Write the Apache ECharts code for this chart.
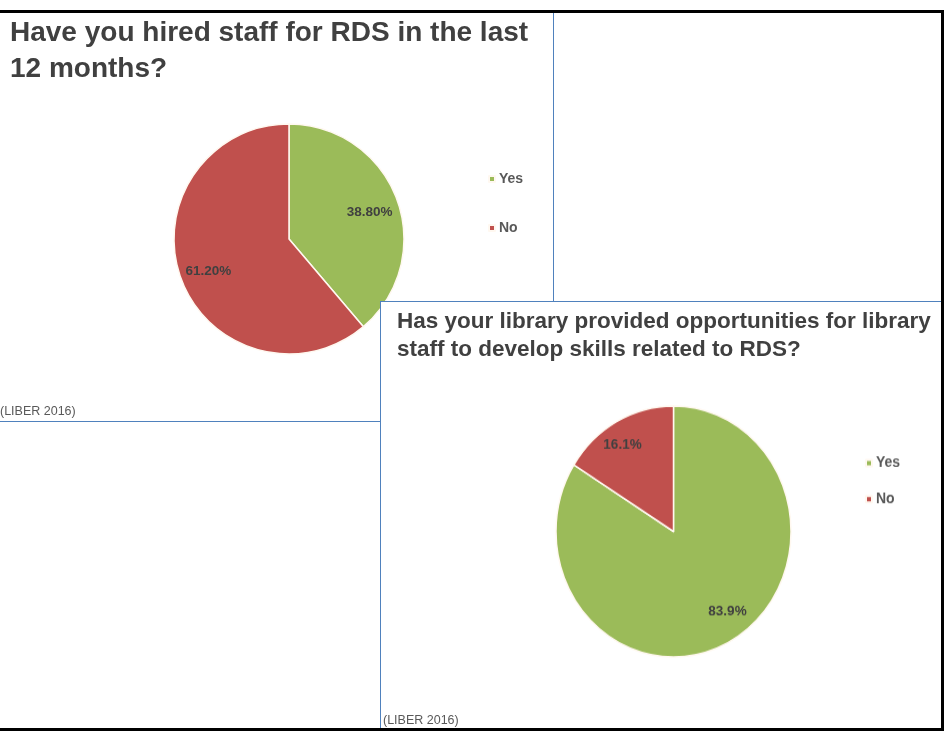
<!DOCTYPE html>
<html>
<head>
<meta charset="utf-8">
<script src="https://cdn.jsdelivr.net/npm/echarts@6/dist/echarts.min.js"></script>
<style>
  html, body { margin:0; padding:0; background:#fff; }
  #frame { position:absolute; left:0; top:0; width:944px; height:731px; }
  #topLine { position:absolute; left:0; top:10px; width:944px; height:3px; background:#000; }
  #rightLine { position:absolute; left:941px; top:10px; width:3px; height:721px; background:#000; }
  #bottomLine { position:absolute; left:0; top:728px; width:944px; height:3px; background:#000; }
  #c1 { position:absolute; left:0; top:13px; width:553px; height:408px; border-right:1px solid #4F81BD; border-bottom:1px solid #4F81BD; background:#fff; }
  #c2 { position:absolute; left:380px; top:301px; width:560px; height:426px; border-left:1px solid #4F81BD; border-top:1px solid #4F81BD; background:#fff; }
  #p2 { position:absolute; left:0; top:0; width:560px; height:426px; transform-origin:292.5px 229.5px; transform:scaleY(1.068); pointer-events:none; }
</style>
</head>
<body>
<div id="frame">
  <div id="c1"></div>
  <div id="c2"><div id="c2text" style="position:absolute;left:0;top:0;width:560px;height:426px;"></div><div id="p2"></div></div>
  <div id="topLine"></div>
  <div id="rightLine"></div>
  <div id="bottomLine"></div>
</div>
<script>
// ---- data ----
const categories = ['Yes', 'No'];
const hiredValues = [38.8, 61.2];
const hiredLabels = ['38.80%', '61.20%'];
const skillsValues = [83.9, 16.1];
const skillsLabels = ['83.9%', '16.1%'];
const title1 = 'Have you hired staff for RDS in the last\n12 months?';
const title2 = 'Has your library provided opportunities for library\nstaff to develop skills related to RDS?';
const sourceText = '(LIBER 2016)';

const colors = ['#9BBB59', '#C0504D'];
const FONT = '"Liberation Sans", Arial, sans-serif';

function titleAndSource(cfg) {
  return {
    title: {
      text: cfg.title, left: cfg.titleLeft, top: cfg.titleTop, padding: 0,
      textStyle: { fontFamily: FONT, fontWeight: 'bold', fontSize: cfg.titleSize, lineHeight: cfg.titleLH, color: '#404040' }
    },
    graphic: [{
      type: 'text', left: cfg.srcLeft, top: cfg.srcTop,
      style: { text: sourceText, font: '12.5px "Liberation Sans", Arial, sans-serif', fill: '#595959' }
    }]
  };
}

function legendOpt(cfg) {
  return {
    orient: 'vertical', left: cfg.legendLeft, top: cfg.legendTop, itemGap: cfg.legendGap,
    icon: 'rect', itemWidth: 6, itemHeight: 6, padding: 0,
    textStyle: { fontFamily: FONT, fontWeight: 'bold', fontSize: 14, color: '#595959', padding: [0, 0, 0, -1] },
    data: categories
  };
}

function pieSeries(cfg) {
  const data = categories.map((c, i) => ({ name: c, value: cfg.values[i], lbl: cfg.labels[i] }));
  return [{
    type: 'pie', center: cfg.center, radius: [0, cfg.r], startAngle: 90, clockwise: true,
    label: { show: false }, labelLine: { show: false },
    itemStyle: { borderColor: '#FFF8F0', borderWidth: 1.5 },
    data: data
  }, {
    type: 'pie', center: cfg.center, radius: [cfg.r * cfg.inner, cfg.r], startAngle: 90, clockwise: true,
    silent: true, z: 5,
    itemStyle: { color: 'rgba(0,0,0,0)', borderWidth: 0 },
    label: { show: true, position: 'inside', fontFamily: FONT, fontWeight: 'bold', fontSize: 13.5, color: '#404040',
      formatter: p => p.data.lbl },
    labelLine: { show: false },
    labelLayout: cfg.labelLayout,
    data: data
  }];
}

// Chart 1
const chart1 = echarts.init(document.getElementById('c1'), null, { renderer: 'canvas' });
const opt1 = Object.assign({ animation: false, color: colors }, titleAndSource({
  title: title1, titleLeft: 10, titleTop: 2, titleSize: 28, titleLH: 36,
  srcLeft: 0, srcTop: 392
}));
opt1.legend = legendOpt({ legendLeft: 488, legendTop: 159, legendGap: 35 });
opt1.series = pieSeries({
  values: hiredValues, labels: hiredLabels, center: [289, 226], r: 115, inner: 0.44,
  labelLayout: p => ({ dy: 3 })
});
chart1.setOption(opt1);

// Chart 2 (title + source)
const chart2 = echarts.init(document.getElementById('c2text'), null, { renderer: 'canvas' });
chart2.setOption(Object.assign({ animation: false }, titleAndSource({
  title: title2, titleLeft: 16, titleTop: 6, titleSize: 22.5, titleLH: 28,
  srcLeft: 2, srcTop: 412
})));

// Chart 2 pie + legend (slightly vertically stretched as in the reference)
const pie2 = echarts.init(document.getElementById('p2'), null, { renderer: 'canvas' });
pie2.setOption({
  animation: false,
  color: colors,
  legend: legendOpt({ legendLeft: 484, legendTop: 158.5, legendGap: 19.7 }),
  series: pieSeries({
    values: skillsValues, labels: skillsLabels, center: [292.5, 229.5], r: 117.5, inner: 0.6,
    labelLayout: p => (p.dataIndex === 0 ? { dx: 7, dy: -10 } : { dx: -4, dy: 4 })
  })
});
</script>
</body>
</html>
